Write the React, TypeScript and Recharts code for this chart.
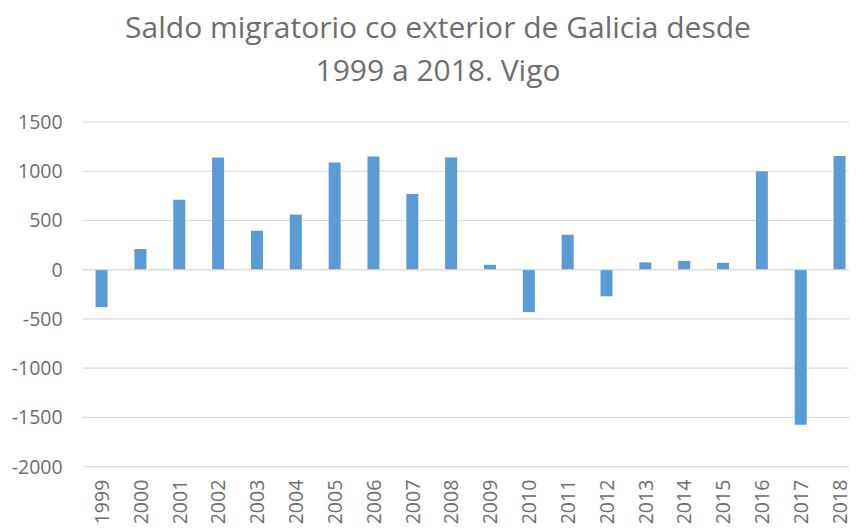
import { BarChart, Bar, XAxis, YAxis, CartesianGrid, ReferenceLine } from 'recharts';

const years = [
  '1999', '2000', '2001', '2002', '2003', '2004', '2005', '2006', '2007', '2008',
  '2009', '2010', '2011', '2012', '2013', '2014', '2015', '2016', '2017', '2018',
];
const saldo = [
  -380, 210, 710, 1140, 395, 560, 1090, 1150, 770, 1140,
  50, -430, 355, -270, 75, 90, 70, 1000, -1575, 1155,
];
const yTicks = [-2000, -1500, -1000, -500, 0, 500, 1000, 1500];
const titleLines = ['Saldo migratorio co exterior de Galicia desde', '1999 a 2018. Vigo'];

const data = years.map((y, i) => ({ year: y, value: saldo[i] }));

const textColor = '#6E6E6E';
const font = '"Open Sans", sans-serif';

function YearTick(props: any) {
  const { x, y, payload } = props;
  const ty = y + 13;
  return (
    <text
      x={x}
      y={ty}
      transform={`rotate(-90, ${x}, ${ty})`}
      textAnchor="end"
      dy="0.35em"
      fill={textColor}
      fontSize={19.5}
      fontFamily={font}
    >
      {payload.value}
    </text>
  );
}

export default function App() {
  return (
    <div
      style={{
        position: 'relative',
        margin: '-8px 0 0 -8px',
        width: 857,
        height: 532,
        overflow: 'hidden',
        background: '#fff',
      }}
    >
      <div
        style={{
          position: 'absolute',
          top: 5,
          left: 0,
          width: 876,
          textAlign: 'center',
          fontFamily: font,
          fontSize: 30,
          lineHeight: '43px',
          color: textColor,
        }}
      >
        {titleLines.map((t) => (
          <div key={t}>{t}</div>
        ))}
      </div>
      <BarChart
        width={860}
        height={532}
        data={data}
        margin={{ top: 122, right: 0.6, left: 0, bottom: 0 }}
      >
        <CartesianGrid vertical={false} stroke="#D9D9D9" strokeWidth={1.2} />
        <XAxis
          dataKey="year"
          height={65.3}
          axisLine={false}
          tickLine={false}
          tickSize={0}
          tickMargin={0}
          interval={0}
          tick={<YearTick />}
        />
        <YAxis
          width={82.6}
          domain={[-2000, 1500]}
          ticks={yTicks}
          axisLine={false}
          tickLine={false}
          tickSize={0}
          tickMargin={20}
          tick={{ fill: textColor, fontSize: 19.5, fontFamily: font }}
        />
        <ReferenceLine y={0} stroke="#D9D9D9" strokeWidth={1.2} />
        <Bar dataKey="value" fill="#5B9BD5" barSize={12} isAnimationActive={false} />
      </BarChart>
    </div>
  );
}
